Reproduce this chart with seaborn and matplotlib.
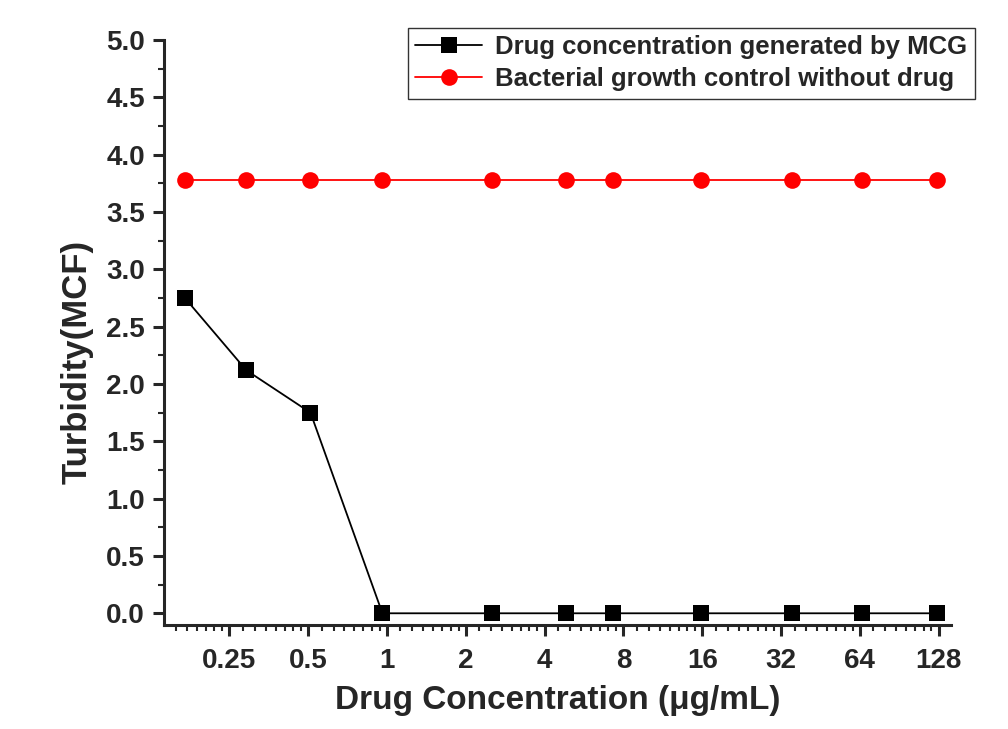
import numpy as np
import pandas as pd
import seaborn as sns
import matplotlib.pyplot as plt
from matplotlib.ticker import LogLocator, FixedLocator, MultipleLocator, NullFormatter

sns.set_style("ticks")
plt.rcParams['font.family'] = ['Liberation Sans', 'DejaVu Sans']
plt.rcParams['font.weight'] = 'bold'

# data
conc = [0.169, 0.29, 0.51, 0.96, 2.52, 4.83, 7.3, 15.8, 35.3, 65.3, 126]
mcg = [2.75, 2.12, 1.75, 0.0, 0.0, 0.0, 0.0, 0.0, 0.0, 0.0, 0.0]
control = [3.78] * 11
xtick_vals = [0.25, 0.5, 1, 2, 4, 8, 16, 32, 64, 128]
xtick_labels = ["0.25", "0.5", "1", "2", "4", "8", "16", "32", "64", "128"]
labels = ["Drug concentration generated by MCG", "Bacterial growth control without drug"]

df = pd.DataFrame({
    "conc": conc * 2,
    "turb": mcg + control,
    "series": [labels[0]] * len(conc) + [labels[1]] * len(conc),
})

fig = plt.figure(figsize=(10.08, 7.29), dpi=100)
ax = fig.add_axes([0.163, 0.143, 0.78, 0.802])

sns.lineplot(
    data=df, x="conc", y="turb", hue="series", style="series",
    palette={labels[0]: "black", labels[1]: "#ff0000"},
    markers={labels[0]: "s", labels[1]: "o"}, dashes=False,
    markersize=12, markeredgewidth=0, linewidth=1.3, ax=ax, legend=True,
)

ax.set_xscale('log', base=2)
ax.set_xlim(0.141, 142)
ax.set_ylim(-0.1, 5.0)
ax.xaxis.set_major_locator(FixedLocator(xtick_vals))
ax.set_xticklabels(xtick_labels)
ax.xaxis.set_minor_locator(LogLocator(base=2, subs=np.arange(1.125, 2, 0.125), numticks=40))
ax.xaxis.set_minor_formatter(NullFormatter())
ax.yaxis.set_major_locator(MultipleLocator(0.5))
ax.yaxis.set_minor_locator(MultipleLocator(0.25))
ax.yaxis.set_major_formatter(plt.FormatStrFormatter('%.1f'))

sns.despine(ax=ax)
for s in ["left", "bottom"]:
    ax.spines[s].set_linewidth(2.2)
ax.tick_params(which='major', direction='out', length=8, width=2.2, labelsize=20)
ax.tick_params(axis='x', which='major', pad=9)
ax.tick_params(axis='y', which='major', pad=6)
ax.tick_params(which='minor', direction='out', length=4, width=1.5)
for lab in ax.get_xticklabels() + ax.get_yticklabels():
    lab.set_fontweight('bold')

ax.set_xlabel("Drug Concentration (\u03bcg/mL)", fontsize=24, fontweight='bold', labelpad=8)
ax.set_ylabel("Turbidity(MCF)", fontsize=25, fontweight='bold')
ax.yaxis.set_label_coords(-0.09, 0.45)

leg = ax.legend(
    loc='upper right', bbox_to_anchor=(0.967, 0.962), bbox_transform=fig.transFigure,
    frameon=True, fancybox=False, edgecolor='black', borderaxespad=0,
    handlelength=2.6, borderpad=0.3, labelspacing=0.3, handletextpad=0.5,
    prop={'weight': 'bold', 'size': 18.5},
)
leg.get_frame().set_linewidth(1.0)

fig.savefig("out.png", dpi=100)
